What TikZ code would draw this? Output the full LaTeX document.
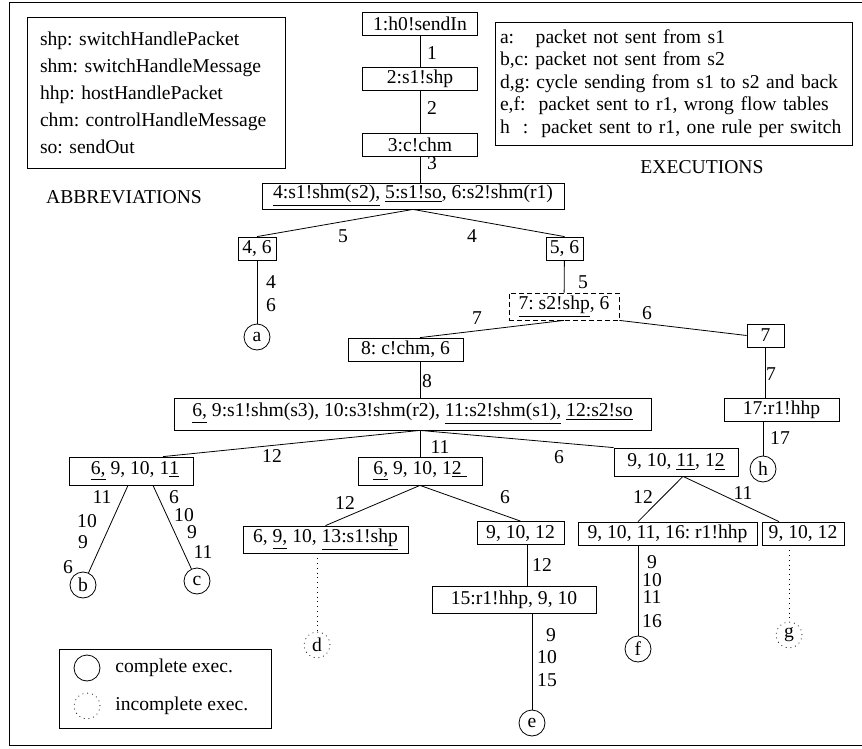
\documentclass[tikz,border=0pt]{standalone}
\usepackage{fontspec}
\setmainfont{Liberation Serif}

\begin{document}
\frenchspacing
\begin{tikzpicture}[x=0.5pt,y=-0.5pt,
        font=\fontsize{9.8pt}{11.8pt}\selectfont,
        box/.style={draw,inner sep=0pt,minimum height=11.5pt},
        exec/.style={draw,circle,inner sep=0pt,minimum size=13pt},
        open/.style={exec,dotted}]
                \useasboundingbox (0,0) rectangle (862,749);
                \draw (862,2) -- (9,2) -- (9,745) -- (862,745);
                % the two legends at the top
                \node[draw,align=left,text width=116pt,inner xsep=6.5pt,minimum height=75.5pt,
                      font=\fontsize{9.8pt}{13.5pt}\selectfont] (abbr) at (156,92.5)
                      {shp: switchHandlePacket\\shm: switchHandleMessage\\hhp: hostHandlePacket\\chm: controlHandleMessage\\so: sendOut};
                \node (abbrtitle) at (124,197) {ABBREVIATIONS};
                \node[draw,align=left,text width=173.5pt,inner xsep=2.5pt,minimum height=61.5pt,
                      font=\fontsize{9.8pt}{11.25pt}\selectfont] (execs) at (673.5,83.5)
                      {a:\hspace{1.1em}packet not sent from s1\\b,c: packet not sent from s2\\d,g: cycle sending from s1 to s2 and back\\e,f:\ \ packet sent to r1, wrong flow tables\\h\ \ :\ \ packet sent to r1, one rule per switch};
                \node (exectitle) at (702,167) {EXECUTIONS};
                % states
                \node[box,minimum width=57.5pt] (n1) at (420,23.5) {1:h0!sendIn};
                \node[box,minimum width=57.5pt] (n2) at (420,79) {2:s1!shp};
                \node[box,minimum width=57.5pt] (n3) at (420,145) {3:c!chm};
                \node[box,minimum width=151pt,minimum height=13pt] (n4) at (413,196) {\underline{4:s1!shm(s2),} \underline{5:s1!so}, 6:s2!shm(r1)\hspace{4pt}};
                \node[box,minimum width=19pt] (n5) at (257,248.5) {4, 6};
                \node[box,minimum width=18.5pt] (n6) at (564.5,248.5) {5, 6};
                \node[box,dash pattern=on 2.5pt off 1.5pt,minimum width=55pt,minimum height=13.5pt] (n7) at (564,306.5) {\underline{7: s2!shp}, 6\hspace{5.5pt}};
                \node[box,minimum width=57.5pt] (n8) at (405.5,349.5) {8: c!chm, 6};
                \node[box,minimum width=238.5pt,minimum height=16pt] (n9) at (412.5,414) {\underline{6,} 9:s1!shm(s3), 10:s3!shm(r2), \underline{11:s2!shm(s1),} \underline{12:s2!so}\hspace{11.5pt}};
                \node[box,minimum width=62pt,minimum height=14pt] (n10) at (131,471) {\hspace{4pt}\underline{6,} 9, 10, 1\underline{1}};
                \node[box,minimum width=62pt,minimum height=14pt] (n11) at (420,471) {\underline{6,} 9, 10, 1\underline{2\ }};
                \node[box,minimum width=62pt,minimum height=14pt] (n12) at (676,462) {9, 10, \underline{11}, 1\underline{2}\hspace{6pt}};
                \node[box,minimum width=82.5pt,minimum height=13.5pt] (n13) at (325.5,539.5) {6, \underline{9,} 10, \underline{13:s1!shp}};
                \node[box,minimum width=43.5pt] (n14) at (520.5,533) {9, 10, 12\hspace{5pt}};
                \node[box,minimum width=82pt,minimum height=13.5pt] (n15) at (514,599.5) {15:r1!hhp, 9, 10};
                \node[box,minimum width=18.5pt] (n16) at (765.5,335.5) {7};
                \node[box,minimum width=57.5pt] (n17) at (781.5,409.5) {17:r1!hhp};
                \node[box,minimum width=89.5pt] (n18) at (667.5,533.5) {9, 10, 11, 16: r1!hhp\hspace{5.5pt}};
                \node[box,minimum width=41pt] (n19) at (803,533.5) {9, 10, 12};
                % end of executions
                \node[exec] (a) at (257,337) {a};
                \node[exec] (b) at (83,585) {b};
                \node[exec] (c) at (197,581) {c};
                \node[open] (d) at (317,645) {d};
                \node[exec] (e) at (532,723) {e};
                \node[exec] (f) at (638,649) {f};
                \node[open] (g) at (789,635) {g};
                \node[exec] (h) at (763,469) {h};
                % transitions
                \draw (n1) -- (n2);
                \draw (n2) -- (n3);
                \draw (n3.south) -- (n3.south |- n4.north);
                \draw (n4.south) -- (n5.north);
                \draw (n4.south) -- (n6.north);
                \draw (n5) -- (a);
                \draw (n6) -- (n7);
                \draw (n7.south) -- (n8.north -| n3.south);
                \draw (n7.south east) -- (n16.west);
                \draw (n16.south) -- (n16.south |- n17.north);
                \draw (h |- n17.south) -- (h);
                \draw (n8.south -| n3.south) -- (n9.north -| n3.south);
                \draw (n9.south -| n11.north) -- ([xshift=16pt]n10.north);
                \draw (n9.south -| n11.north) -- (n11.north);
                \draw (n9.south -| n11.north) -- (n12.north west);
                \draw ([xshift=-1.5pt]n10.south) -- (b);
                \draw ([xshift=11pt]n10.south) -- (c);
                \draw (n11.south) -- (n13.north);
                \draw (n11.south) -- (n14.north);
                \draw[dotted] (d |- n13.south) -- (d);
                \draw ([xshift=3.5pt]n14.south) -- ([xshift=3.5pt]n14.south |- n15.north);
                \draw (e |- n15.south) -- (e);
                \draw ([xshift=3.5pt]n12.south) -- (n18.north -| f);
                \draw ([xshift=3.5pt]n12.south) -- ([xshift=-12pt]n19.north);
                \draw (f |- n18.south) -- (f);
                \draw[dotted] (g |- n19.south) -- (g);
                % labels
                \node (l1) at (432,53) {1};
                \node (l2) at (432,108) {2};
                \node (l3) at (432,163) {3};
                \node (l4) at (343,236) {5};
                \node (l5) at (472,236) {4};
                \node (l6) at (271,282) {4};
                \node (l7) at (271,305) {6};
                \node (l8) at (583,282) {5};
                \node (l9) at (477,318) {7};
                \node (l10) at (647,313) {6};
                \node (l11) at (771,374) {7};
                \node (l12) at (780,438) {17};
                \node (l13) at (427,381) {8};
                \node (l14) at (272,456) {12};
                \node (l15) at (440,447) {11};
                \node (l16) at (559,457) {6};
                \node (l17) at (102,497) {11};
                \node (l18) at (87,521) {10};
                \node (l19) at (83,542) {9};
                \node (l20) at (68,567) {6};
                \node (l21) at (174,497) {6};
                \node (l22) at (184,515) {10};
                \node (l23) at (192,532) {9};
                \node (l24) at (203,552) {11};
                \node (l25) at (345,503) {12};
                \node (l26) at (505,497) {6};
                \node (l27) at (542,565) {12};
                \node (l28) at (551,635) {9};
                \node (l29) at (547,657) {10};
                \node (l30) at (547,680) {15};
                \node (l31) at (643,497) {12};
                \node (l32) at (743,493) {11};
                \node (l33) at (652,562) {9};
                \node (l34) at (652,580) {10};
                \node (l35) at (652,597) {11};
                \node (l36) at (652,621) {16};
                % legend of the circles
                \node[draw,minimum width=106pt,minimum height=39.5pt] (legend) at (165,688.5) {};
                \node[exec] (full) at (87,668) {};
                \node[open] (part) at (87,706) {};
                \node[anchor=west,inner sep=0pt] (fulltext) at (115,668) {complete exec.};
                \node[anchor=west,inner sep=0pt] (parttext) at (115,706) {incomplete exec.};
            \end{tikzpicture}
\end{document}
